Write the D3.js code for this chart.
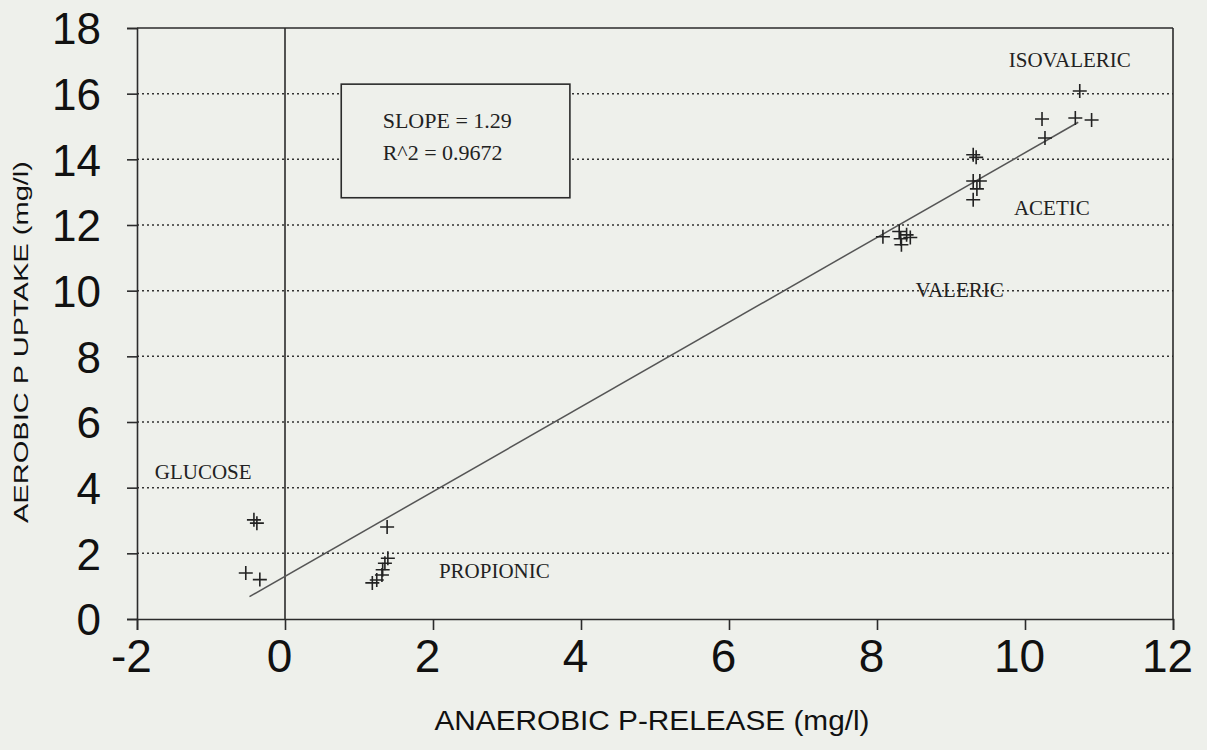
<!DOCTYPE html>
<html>
<head>
<meta charset="utf-8">
<script src="https://cdn.jsdelivr.net/npm/d3@7"></script>
<style>
  html, body { margin: 0; padding: 0; background: #eef0eb; }
  svg { display: block; }
</style>
</head>
<body>
<div id="graph"></div>
<script>
// P-release vs P-uptake
var xTicks = [-2, 0, 2, 4, 6, 8, 10, 12];
var yTicks = [0, 2, 4, 6, 8, 10, 12, 14, 16, 18];

var glucose = [[-0.42, 3.02], [-0.38, 2.92], [-0.53, 1.40], [-0.34, 1.20]];
var propionic = [[1.38, 2.80], [1.39, 1.85], [1.35, 1.70], [1.32, 1.50], [1.31, 1.34], [1.24, 1.19], [1.18, 1.10]];
var valeric = [[8.08, 11.64], [8.30, 11.80], [8.32, 11.58], [8.33, 11.40], [8.45, 11.62], [8.40, 11.70]];
var acetic = [[9.30, 14.14], [9.34, 14.06], [9.30, 13.34], [9.39, 13.34], [9.35, 13.10], [9.30, 12.77]];
var isovaleric = [[10.74, 16.08], [10.23, 15.23], [10.27, 14.65], [10.68, 15.26], [10.90, 15.20]];

var slope = 1.29, intercept = 1.30, rSquared = 0.9672;
var fitRange = [-0.48, 10.72];

var groupNames = ["GLUCOSE", "PROPIONIC", "VALERIC", "ACETIC", "ISOVALERIC"];
var groupLabelAt = [[-1.76, 4.25], [2.08, 1.25], [8.52, 9.8], [9.85, 12.3], [9.78, 16.8]];

var width = 1207;
var height = 750;

var svg = d3.select("#graph").
append("svg").
attr("width", width).
attr("height", height);

var xScale = d3.scaleLinear().domain([-2, 12]).range([137, 1173]);
var yScale = d3.scaleLinear().domain([0, 18]).range([619, 28]);

var ink = "#2b2b2b";

// dotted grid
svg.selectAll("line.grid").
data(yTicks.filter(function (d) {return d > 0 && d < 18;})).
enter().
append("line").
attr("class", "grid").
attr("x1", xScale(-2)).
attr("x2", xScale(12)).
attr("y1", function (d) {return yScale(d);}).
attr("y2", function (d) {return yScale(d);}).
attr("stroke", "#333").
attr("stroke-width", 1.5).
attr("stroke-dasharray", "2,3");

// axes (plain hyphen for negatives, like the scan)
var yAxis = d3.axisLeft(yScale).tickValues(yTicks).tickSize(10).tickPadding(26).
tickFormat(function (d) {return String(d);});
var xAxis = d3.axisBottom(xScale).tickValues(xTicks).tickSize(11).tickPadding(7).
tickFormat(function (d) {return String(d);});

var gy = svg.append("g").
attr("transform", "translate(" + xScale(-2) + ",0)").
call(yAxis);

var gx = svg.append("g").
attr("transform", "translate(0," + yScale(0) + ")").
call(xAxis);

[gx, gy].forEach(function (g) {
   g.select(".domain").attr("stroke", ink).attr("stroke-width", 1.6);
   g.selectAll(".tick line").attr("stroke", ink).attr("stroke-width", 1.6);
   g.selectAll(".tick text").
   attr("fill", "#111").
   style("font-family", "Liberation Sans, Arial, sans-serif").
   style("font-size", "44px");
});
gx.selectAll(".tick text").
style("font-size", "46px").
attr("dy", "0.75em").
attr("transform", "translate(-6,0)");
gy.selectAll(".tick text").attr("dy", "0.36em");

// frame: top, right, and the x = 0 line
svg.append("line").
attr("x1", xScale(-2)).attr("x2", xScale(12)).
attr("y1", yScale(18)).attr("y2", yScale(18)).
attr("stroke", ink).attr("stroke-width", 1.6);
svg.append("line").
attr("x1", xScale(12)).attr("x2", xScale(12)).
attr("y1", yScale(18)).attr("y2", yScale(0)).
attr("stroke", ink).attr("stroke-width", 1.6);
svg.append("line").
attr("x1", xScale(0)).attr("x2", xScale(0)).
attr("y1", yScale(18)).attr("y2", yScale(0)).
attr("stroke", ink).attr("stroke-width", 1.6);

// regression line
svg.append("line").
attr("x1", xScale(fitRange[0])).
attr("y1", yScale(slope * fitRange[0] + intercept)).
attr("x2", xScale(fitRange[1])).
attr("y2", yScale(slope * fitRange[1] + intercept)).
attr("stroke", "#555").
attr("stroke-width", 1.5);

// points as plus signs
var allPoints = glucose.concat(propionic, valeric, acetic, isovaleric);
svg.selectAll("path.pt").
data(allPoints).
enter().
append("path").
attr("class", "pt").
attr("d", "M-7,0H7M0,-7V7").
attr("transform", function (d) {return "translate(" + xScale(d[0]) + "," + yScale(d[1]) + ")";}).
attr("fill", "none").
attr("stroke", "#222").
attr("stroke-width", 1.6);

// group labels
svg.selectAll("text.group").
data(groupNames).
enter().
append("text").
attr("class", "group").
attr("x", function (d, i) {return xScale(groupLabelAt[i][0]);}).
attr("y", function (d, i) {return yScale(groupLabelAt[i][1]);}).
text(function (d) {return d;}).
attr("fill", "#222").
style("font-family", "Liberation Serif, Times New Roman, serif").
style("font-size", "21px");

// slope box
svg.append("rect").
attr("x", xScale(0.76)).
attr("y", yScale(16.29)).
attr("width", xScale(3.85) - xScale(0.76)).
attr("height", yScale(12.83) - yScale(16.29)).
attr("fill", "#eef0eb").
attr("stroke", ink).
attr("stroke-width", 1.6);

svg.append("text").
attr("x", xScale(1.32)).
attr("y", yScale(14.95)).
text("SLOPE = " + slope.toFixed(2)).
attr("fill", "#222").
style("font-family", "Liberation Serif, Times New Roman, serif").
style("font-size", "22px");

svg.append("text").
attr("x", xScale(1.32)).
attr("y", yScale(13.98)).
text("R^2 = " + rSquared).
attr("fill", "#222").
style("font-family", "Liberation Serif, Times New Roman, serif").
style("font-size", "22px");

// axis titles
svg.append("text").
attr("x", (xScale(-2) + xScale(12)) / 2 - 3).
attr("y", 730).
attr("text-anchor", "middle").
attr("textLength", 435).
attr("lengthAdjust", "spacingAndGlyphs").
text("ANAEROBIC P-RELEASE (mg/l)").
attr("fill", "#111").
style("font-family", "Liberation Sans, Arial, sans-serif").
style("font-size", "27px");

svg.append("text").
attr("transform", "translate(28," + 342 + ") rotate(-90)").
attr("text-anchor", "middle").
attr("textLength", 362).
attr("lengthAdjust", "spacingAndGlyphs").
text("AEROBIC P UPTAKE (mg/l)").
attr("fill", "#111").
style("font-family", "Liberation Sans, Arial, sans-serif").
style("font-size", "21px");
</script>
</body>
</html>
